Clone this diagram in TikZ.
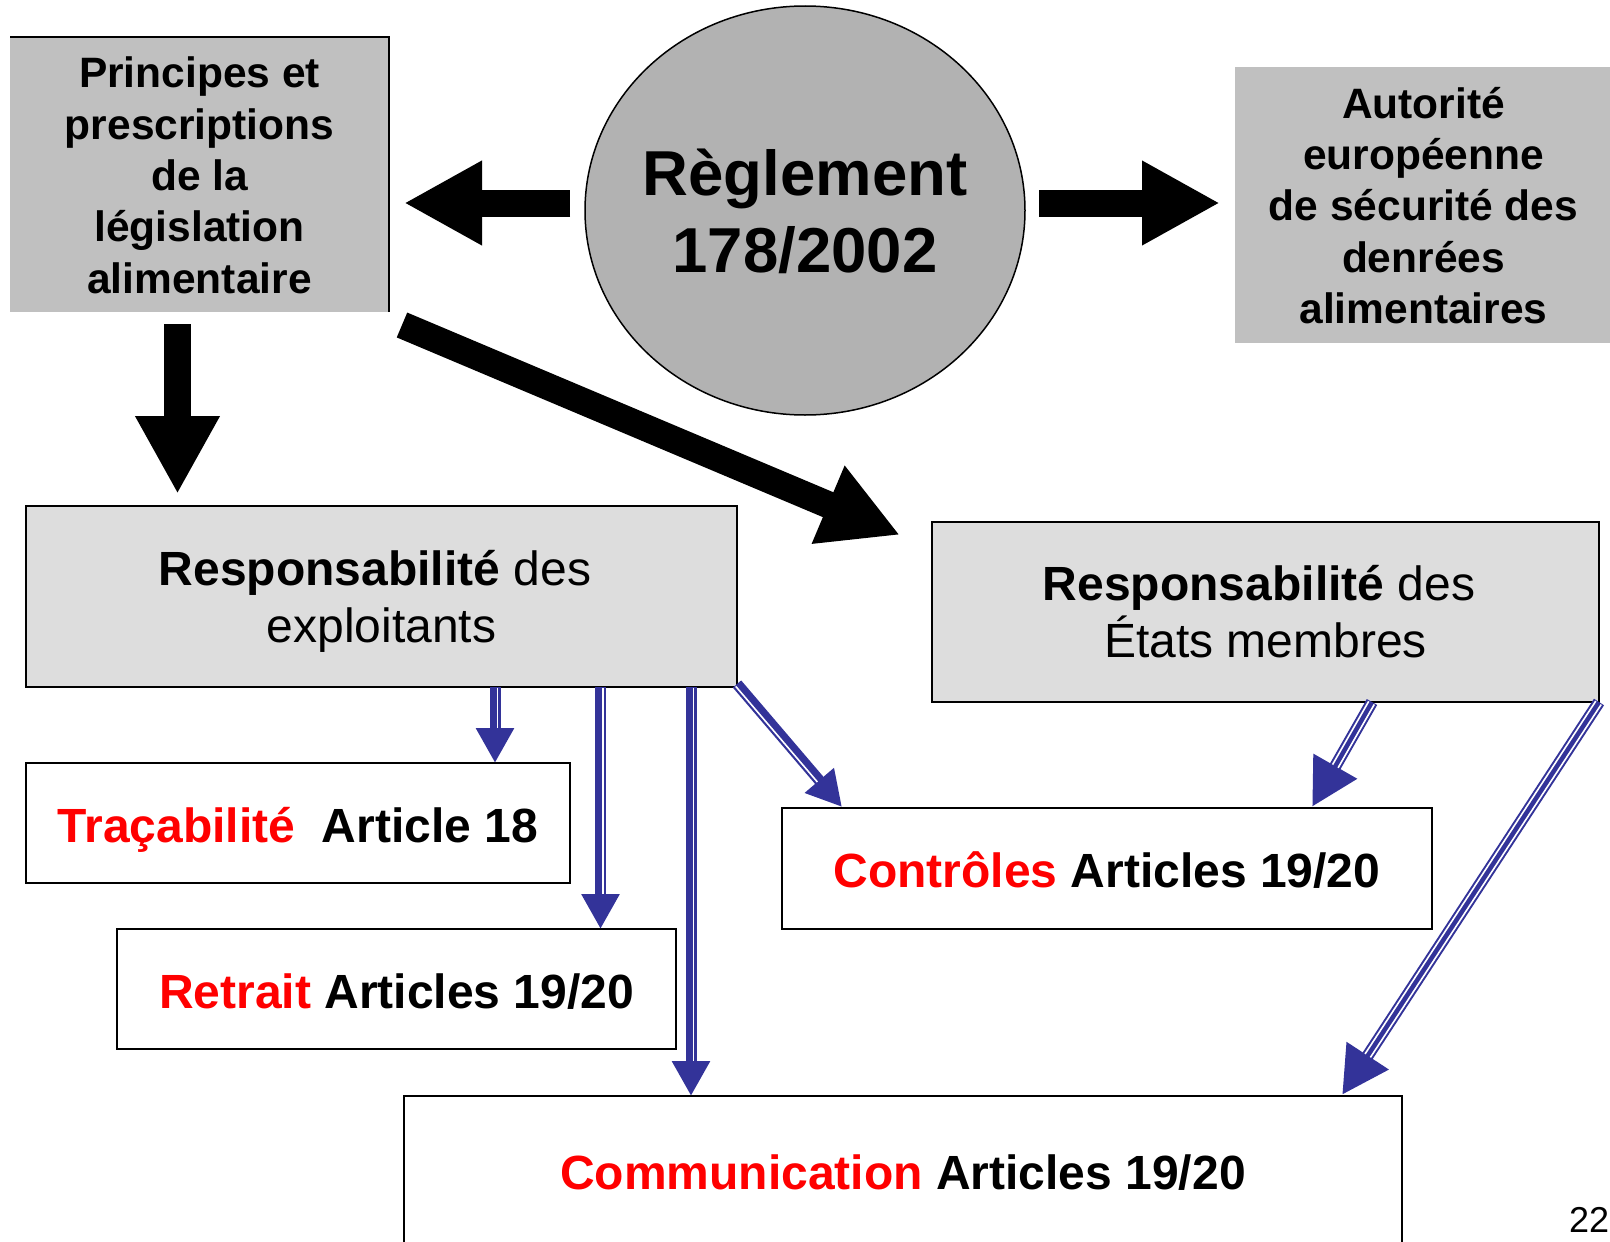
\documentclass[tikz,border=0pt]{standalone}
\usepackage{fontspec}
\setmainfont{Liberation Sans}
\usetikzlibrary{arrows.meta,calc,shapes.geometric}
\definecolor{boxgray}{HTML}{C0C0C0}
\definecolor{ovalgray}{HTML}{B2B2B2}
\definecolor{panelgray}{HTML}{DDDDDD}
\definecolor{linkblue}{HTML}{333399}
\definecolor{hotred}{HTML}{FF0000}

% white separating stripe inside a blue link: from #1 towards #2, stopping
% #3 before the tip, shifted sideways by #4
\newcommand\linkgap[4]{%
  \coordinate (gapend) at ($(#2)!#3!(#1)$);
  \draw[gapline] ($(#1)!#4!90:(#2)$) -- ($(gapend)!#4!-90:(#1)$);
}

\begin{document}
\begin{tikzpicture}[x=1pt,y=-1pt,
  topbox/.style={fill=boxgray, inner sep=0pt, outer sep=0pt},
  panel/.style={fill=panelgray, draw=black, line width=1.6pt, inner sep=0pt, outer sep=0pt},
  plainbox/.style={fill=white, draw=black, line width=1.6pt, inner sep=0pt, outer sep=0pt,
                   font=\fontsize{48}{57}\selectfont\bfseries, text height=38pt, text depth=0pt},
  headtext/.style={font=\fontsize{42.5}{51.3}\selectfont\bfseries, align=center, inner sep=0pt, anchor=base},
  paneltext/.style={font=\fontsize{48}{57}\selectfont, align=center, inner sep=0pt, anchor=base},
  blockarrow/.style={line width=27pt, -{Triangle[length=78pt,width=79pt]}},
  linkarrow/.style={linkblue, line width=11pt, -{Triangle[length=35pt,width=36pt]}},
  widelink/.style={linkblue, line width=12pt, -{Triangle[length=47pt,width=47pt]}},
  gapline/.style={white, line width=1.6pt, shorten <=1pt},
]
\clip (0,0) rectangle (1610,1242);
\fill[white] (0,0) rectangle (1610,1242);

% top row (multi-line labels are placed by the baseline of their last line)
\node[topbox, minimum width=379pt, minimum height=275pt] (princ) at (199.5,174.5) {};
\draw[line width=1.2pt] (princ.south east) -- (princ.north east) -- (princ.north west);
\node[headtext] (princtxt) at (199.5,293)
  {Principes et\\prescriptions\\de la\\législation\\alimentaire};

\node[ellipse, fill=ovalgray, draw=black, line width=1.5pt, inner sep=0pt, outer sep=0pt,
      minimum width=440pt, minimum height=409pt] (regl) at (805,210.5) {};
\node[font=\fontsize{63.5}{77}\selectfont\bfseries, align=center, inner sep=0pt, anchor=base]
  (regltxt) at (805,272) {Règlement\\178/2002};

\node[topbox, minimum width=375pt, minimum height=276pt] (auto) at (1422.5,205) {};
\node[headtext] (autotxt) at (1423.5,323.5)
  {Autorité\\européenne\\de sécurité des\\denrées\\alimentaires};

% responsibility panels
\node[panel, minimum width=711pt, minimum height=181pt] (expl) at (381.5,596.5) {};
\node[paneltext] (expltxt) at (381.5,642.5)
  {\textbf{Responsabilité} des\hbox to 13pt{}\\exploitants};

\node[panel, minimum width=667pt, minimum height=180pt] (etats) at (1265.5,612) {};
\node[paneltext] (etatstxt) at (1265.5,657.5)
  {\textbf{Responsabilité} des\hbox to 13pt{}\\États membres};

% article boxes
\node[plainbox, minimum width=544pt, minimum height=120pt] (trac) at (298,823)
  {\textcolor{hotred}{Traçabilité}\ \ Article 18};
\node[plainbox, minimum width=559pt, minimum height=120pt] (retr) at (396.5,989)
  {\textcolor{hotred}{Retrait} Articles 19/20};
\node[plainbox, minimum width=650pt, minimum height=121pt] (ctrl) at (1107,868.5)
  {\textcolor{hotred}{Contrôles} Articles 19/20};
\node[plainbox, minimum width=998pt, minimum height=148pt] (comm) at (903,1170)
  {\textcolor{hotred}{Communication} Articles 19/20};

% black block arrows
\draw[blockarrow] ($(regl.west)+(-15,-7.5)$) -- ($(princ.east)+(15,28.5)$);
\draw[blockarrow] ($(regl.east)+(14,-7.5)$) -- ($(auto.west)+(-15,-2)$);
\draw[blockarrow] ($(princ.south)+(-22,12)$) -- ($(expl.north west)+(151.5,-12)$);
\draw[blockarrow] ($(princ.south east)+(13,13)$) -- ($(etats.north west)+(-32,13)$);

% blue links from the operators' panel
\coordinate (b1) at ($(expl.south)+(113.5,0)$);
\coordinate (t1) at (b1 |- trac.north);
\draw[linkarrow] (b1) -- (t1);
\linkgap{b1}{t1}{35pt}{2.5pt}

\coordinate (b2) at ($(expl.south)+(219,0)$);
\coordinate (t2) at (b2 |- retr.north);
\draw[linkarrow] (b2) -- (t2);
\linkgap{b2}{t2}{35pt}{2.5pt}

\coordinate (b3) at ($(expl.south)+(309.5,0)$);
\coordinate (t3) at (b3 |- comm.north);
\draw[linkarrow] (b3) -- (t3);
\linkgap{b3}{t3}{35pt}{2.5pt}

\coordinate (b4) at ($(expl.south east)+(0,-3)$);
\coordinate (t4) at ($(ctrl.north west)+(60,-1)$);
\draw[linkarrow] (b4) -- (t4);
\linkgap{b4}{t4}{35pt}{-2.5pt}

% blue links from the member states' panel
\coordinate (b5) at ($(etats.south)+(106.5,0)$);
\coordinate (t5) at ($(ctrl.north east)+(-120,-1)$);
\draw[widelink] (b5) -- (t5);
\linkgap{b5}{t5}{47pt}{3.2pt}
\linkgap{b5}{t5}{47pt}{-3.2pt}

\coordinate (b6) at (etats.south east);
\coordinate (t6) at ($(comm.north east)+(-60,-1)$);
\draw[widelink] (b6) -- (t6);
\linkgap{b6}{t6}{47pt}{3.2pt}
\linkgap{b6}{t6}{47pt}{-3.2pt}

% page number
\node[font=\fontsize{36}{43}\selectfont, inner sep=0pt, anchor=base west] (pnum) at (1569,1232) {22};
\end{tikzpicture}
\end{document}
